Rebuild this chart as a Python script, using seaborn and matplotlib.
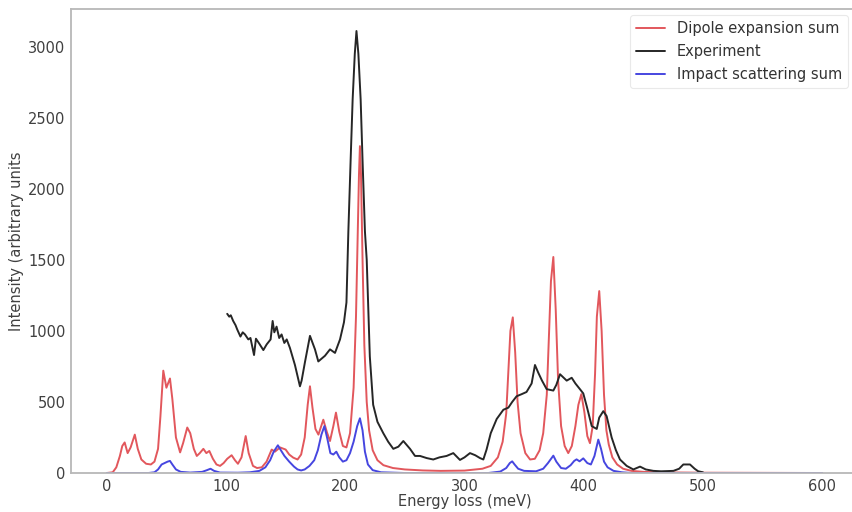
import matplotlib
matplotlib.use("Agg")
import matplotlib.pyplot as plt
import seaborn as sns
import pandas as pd

# ---------------- data ----------------
dipole_x = [0, 5, 8, 11, 13, 15, 17.5, 20, 23.5, 26, 29, 33, 37, 40, 43, 45, 47.4, 50, 53, 55,
            58, 61.5, 64, 67.5, 70, 73, 75.5, 78, 81, 83.5, 86, 89, 92, 95, 98, 101, 104.7, 107.5,
            110, 113, 116.5, 119, 122.6, 126, 130, 134, 138.3, 141, 145.3, 150, 153, 156.4, 160,
            163, 166, 168.5, 170.4, 172.5, 175, 177.5, 181.6, 184.5, 187.2, 190, 192.2, 195, 198,
            201, 204, 207, 209, 210.5, 211.5, 212.3, 213.2, 214.5, 216, 218, 220, 223, 227, 232,
            240, 250, 265, 280, 300, 315, 322, 328, 332, 335, 337, 338.5, 340.5, 342.5, 344.5,
            347, 351, 355, 359, 363, 366, 369, 371, 372.5, 374.5, 376.5, 378.5, 381, 384, 387,
            390, 393, 395.5, 398, 400.5, 403, 405.2, 407.5, 409.5, 411, 413, 415, 417, 419, 421,
            424, 428, 433, 440, 450, 470, 500, 550, 600]
dipole_y = [0, 5, 40, 120, 190, 215, 140, 180, 270, 170, 95, 65, 60, 80, 170, 400, 720, 600, 665, 520,
            250, 145, 210, 320, 280, 170, 120, 140, 170, 140, 155, 100, 60, 50, 70, 100, 125, 90,
            65, 110, 260, 140, 50, 35, 40, 80, 165, 150, 180, 165, 130, 108, 95,
            130, 250, 480, 610, 460, 310, 270, 375, 290, 225, 330, 425, 290, 190,
            180, 280, 600, 1100, 1700, 2100, 2300, 2100, 1500, 900, 500, 300, 160, 90, 55,
            35, 25, 18, 15, 17, 30, 50, 110, 220, 420, 750, 1000, 1095, 850, 500,
            280, 140, 95, 100, 160, 280, 550, 1000, 1350, 1520, 1150, 650, 330, 190, 140,
            190, 330, 480, 555, 430, 260, 210, 330, 700, 1100, 1280, 1000, 550, 300, 200,
            110, 60, 30, 15, 8, 4, 2, 1, 0]

impact_x = [0, 35, 40, 43, 46, 48.5, 51, 53, 55, 58, 62, 70, 80, 84, 87, 90, 95, 110, 120, 128,
            133, 137, 140, 143.5, 146, 149, 153, 157, 160, 163, 166, 170, 174, 177, 180, 182.5,
            185, 187.5, 190, 192.5, 195, 198, 201, 204, 207, 210, 212.3, 214.5, 216.5, 219, 223,
            230, 250, 320, 330, 335, 338, 340, 342, 345, 350, 360, 366, 370, 374.5, 377, 381, 385,
            389, 392, 394, 396.5, 399.6, 403, 406, 409, 412.2, 414.5, 417, 420, 425, 432, 440, 600]
impact_y = [0, 0, 5, 25, 60, 70, 80, 85, 60, 25, 8, 3, 8, 20, 30, 15, 3, 2, 5, 15,
            40, 90, 150, 195, 160, 120, 80, 45, 25, 18, 25, 50, 90, 160, 270, 330,
            240, 140, 130, 150, 110, 80, 90, 140, 220, 330, 385, 300, 150, 60, 20,
            5, 0, 0, 10, 35, 70, 82, 60, 30, 15, 12, 30, 70, 122, 80, 35, 30,
            55, 85, 96, 82, 103, 70, 60, 120, 235, 170, 80, 40, 15, 5, 0, 0]

exp_x = [101, 102.7, 104, 106, 108, 109.4, 112.1, 114, 115.9, 118.7, 120.5, 123.5, 125.1, 127.9,
         131.3, 134.1, 137.4, 139.1, 140.5, 142.4, 144.6, 146.6, 148.9, 150.9, 153.6, 157.8, 162,
         163.4, 166.2, 170.4, 174.6, 177.4, 183, 187.2, 191.4, 195.6, 198.9, 201, 202.6, 204.5,
         206.2, 208, 209.4, 211, 212.9, 214.5, 216.5, 218, 220.6, 223.4, 227, 231.9, 236, 240.3,
         244.5, 248.7, 254.3, 258.5, 262.7, 268.3, 273.8, 279, 285, 290.6, 296.2, 300, 304.6, 309,
         313, 315.8, 318.5, 322, 327, 332.6, 336.8, 340, 343.7, 348, 352, 356.3, 359.1, 361.9,
         365, 368.9, 374.5, 377, 380.1, 385.7, 389.9, 393, 396.8, 399.6, 402.5, 406.7, 410.9,
         413, 416.4, 419.2, 423.4, 427, 430.4, 436, 441.6, 447.2, 452, 458.4, 465, 475.2, 480,
         483.5, 489.1, 493, 496, 500]
exp_y = [1120, 1100, 1110, 1070, 1040, 1010, 960, 990, 975, 940, 950, 830, 945, 910,
         865, 905, 940, 1070, 990, 1030, 950, 975, 915, 940, 880, 760, 610,
         650, 780, 965, 870, 785, 825, 870, 845, 940, 1060, 1200, 1700, 2200,
         2630, 2950, 3110, 2950, 2630, 2200, 1700, 1500, 820, 480, 360, 280, 220, 170,
         185, 225, 170, 120, 120, 105, 95, 110, 120, 140, 92, 110, 140, 125,
         105, 95, 165, 280, 380, 445, 460, 500, 540, 555, 570, 630, 760, 705,
         650, 590, 580, 620, 695, 650, 670, 630, 590, 560, 470, 330, 310,
         390, 435, 400, 250, 160, 95, 50, 25, 45, 25, 15, 12, 15, 30,
         60, 60, 30, 12, 5]

series_names = ["Dipole expansion sum", "Experiment", "Impact scattering sum"]
x_label = "Energy loss (meV)"
y_label = "Intensity (arbitrary units"

# ---------------- plotting ----------------
sns.set_style("white")
plt.rcParams["font.family"] = ["DejaVu Sans"]

fig = plt.figure(figsize=(8.52, 5.12), dpi=100)
W, H = 852, 512
ax_left, ax_right, ax_top, ax_bottom = 71, 858, 9, 473
ax = fig.add_axes([ax_left / W, 1 - ax_bottom / H,
                   (ax_right - ax_left) / W, (ax_bottom - ax_top) / H])

frames = [
    pd.DataFrame({"x": dipole_x, "y": dipole_y, "s": series_names[0]}),
    pd.DataFrame({"x": exp_x, "y": exp_y, "s": series_names[1]}),
    pd.DataFrame({"x": impact_x, "y": impact_y, "s": series_names[2]}),
]
colors = ["#e2575c", "#262626", "#4646e0"]
for df, c in zip(frames, colors):
    sns.lineplot(data=df, x="x", y="y", ax=ax, color=c, linewidth=1.4,
                 label=df["s"].iloc[0], sort=False, estimator=None)

ax.set_xlim(-30, 630)
ax.set_ylim(0, 3265)
ax.set_xticks([0, 100, 200, 300, 400, 500, 600])
ax.set_yticks([0, 500, 1000, 1500, 2000, 2500, 3000])

for sp in ax.spines.values():
    sp.set_color("#b8b8b8")
    sp.set_linewidth(1.3)
ax.tick_params(axis="both", which="major", direction="out", length=3, width=1,
               color="#b8b8b8", labelsize=10.5, labelcolor="#404040", pad=1)

ax.set_xlabel(x_label, fontsize=10.5, color="#404040", labelpad=0)
ax.set_ylabel(y_label, fontsize=10.5, color="#404040", labelpad=3)

leg = ax.legend(loc="upper left", bbox_to_anchor=(630 / W, 1 - 15 / H),
                bbox_transform=fig.transFigure, borderaxespad=0,
                fontsize=10.5, frameon=True, handlelength=2.0, labelspacing=0.55)
leg.get_frame().set_edgecolor("#e4e4e4")
leg.get_frame().set_linewidth(0.8)
for t in leg.get_texts():
    t.set_color("#333333")

fig.savefig("out.png", dpi=100)
